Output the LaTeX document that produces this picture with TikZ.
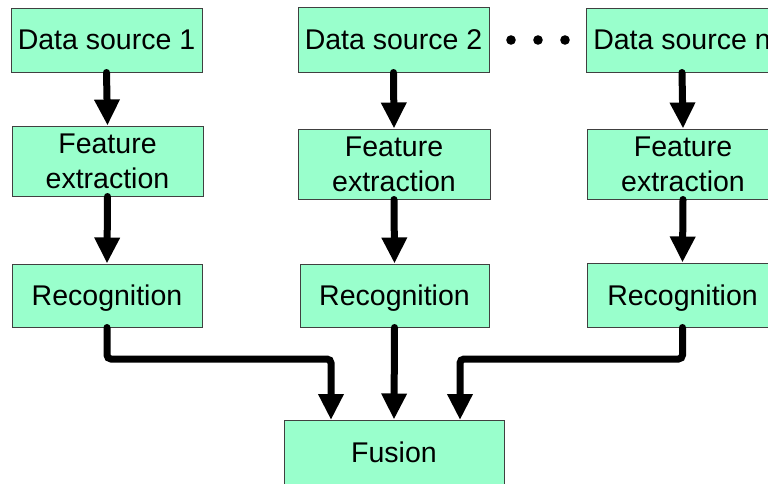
\documentclass[tikz,border=0pt]{standalone}
\usepackage{fontspec}
\setmainfont{Liberation Sans}
\usetikzlibrary{arrows.meta}
\definecolor{boxfill}{HTML}{99FFCC}
\definecolor{boxline}{HTML}{404040}
\tikzset{
  box/.style={draw=boxline, line width=1pt, fill=boxfill, inner sep=0pt,
    font=\fontsize{28.5}{35}\selectfont, align=center},
  onebox/.style={box, text depth=0pt},
  flow/.style={line width=7pt, line cap=round, rounded corners=4pt,
    -{Triangle[width=24pt,length=26pt]}},
  dotmark/.style={fill=black, draw=none},
}
\begin{document}
\begin{tikzpicture}[x=1pt,y=-1pt]
\useasboundingbox (0,0) rectangle (768,483);
\clip (0,0) rectangle (768,483);
% column 1
\node[onebox, minimum width=191pt, minimum height=64pt] (ds1) at (106.5,40) {Data source 1};
\node[box, minimum width=191pt, minimum height=70pt] (fe1) at (107.5,161) {Feature\\extraction};
\node[onebox, minimum width=190pt, minimum height=63pt] (rc1) at (107,295.5) {Recognition};
% column 2
\node[onebox, minimum width=191pt, minimum height=65pt] (ds2) at (393.5,39.5) {Data source 2};
\node[box, minimum width=192pt, minimum height=70pt] (fe2) at (394,164) {Feature\\extraction};
\node[onebox, minimum width=189pt, minimum height=63pt] (rc2) at (394.5,295.5) {Recognition};
% column n
\node[onebox, minimum width=192pt, minimum height=64pt] (dsn) at (682,40) {Data source n};
\node[box, minimum width=192pt, minimum height=70pt] (fen) at (683,164) {Feature\\extraction};
\node[onebox, minimum width=191pt, minimum height=64pt] (rcn) at (682.5,295) {Recognition};
% fusion
\node[onebox, minimum width=220pt, minimum height=65pt] (fus) at (394,452.5) {Fusion};
% dots
\fill[dotmark] (511,40) circle (4.8pt);
\fill[dotmark] (538,40) circle (4.8pt);
\fill[dotmark] (565,40) circle (4.8pt);
% vertical arrows
\draw[flow] (ds1.south) -- (fe1.north);
\draw[flow] (fe1.south) -- (rc1.north);
\draw[flow] (ds2.south) -- (fe2.north);
\draw[flow] (fe2.south) -- (rc2.north);
\draw[flow] (dsn.south) -- (fen.north);
\draw[flow] (fen.south) -- (rcn.north);
% to fusion
\coordinate (fl) at (331,420);
\coordinate (fr) at (460,420);
\draw[flow] (rc1.south) |- (331,359) -- (fl);
\draw[flow] (rc2.south) -- (fus.north);
\draw[flow] (rcn.south) |- (460,359) -- (fr);
\end{tikzpicture}
\end{document}
